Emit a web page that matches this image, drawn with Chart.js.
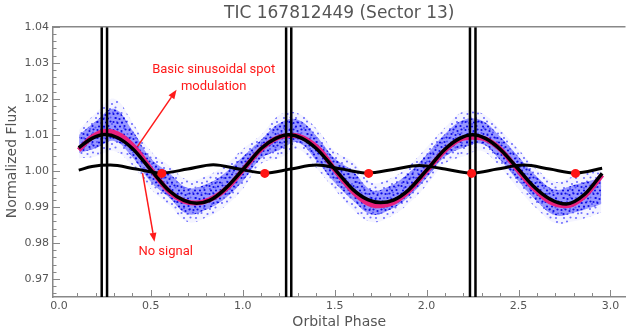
<!DOCTYPE html>
<html>
<head>
<meta charset="utf-8">
<script src="https://cdn.jsdelivr.net/npm/chart.js@4"></script>
<style>
  html, body { margin: 0; padding: 0; background: #fff; overflow: hidden; }
</style>
</head>
<body>
<canvas id="lc" width="630" height="336"></canvas>
<script>
'use strict';

// axis ticks
var xTicks = [0.0, 0.5, 1.0, 1.5, 2.0, 2.5, 3.0];
var yTicks = [0.97, 0.98, 0.99, 1.00, 1.01, 1.02, 1.03, 1.04];

// blue scatter cloud, read as envelopes (outer spread and dense core)
var cloudPhase = [0.11, 0.2, 0.3, 0.4, 0.5, 0.6, 0.7, 0.8, 0.9, 1.0,
  1.1, 1.2, 1.3, 1.4, 1.5, 1.6, 1.7, 1.8, 1.9, 2.0,
  2.1, 2.2, 2.3, 2.4, 2.5, 2.6, 2.7, 2.8, 2.9, 2.95];
var cloudHigh = [1.0115, 1.0160, 1.0200, 1.0135, 1.0055, 1.0015, 0.9975, 0.9985, 1.0015, 1.0060,
  1.0100, 1.0155, 1.0160, 1.0118, 1.0055, 1.0025, 0.9968, 0.9978, 1.0012, 1.0065,
  1.0120, 1.0165, 1.0160, 1.0115, 1.0060, 1.0005, 0.9970, 0.9985, 0.9998, 1.0005];
var cloudLow = [1.0035, 1.0040, 1.0055, 1.0015, 0.9950, 0.9905, 0.9858, 0.9870, 0.9900, 0.9950,
  1.0020, 1.0035, 1.0060, 1.0008, 0.9948, 0.9892, 0.9858, 0.9872, 0.9908, 0.9960,
  1.0020, 1.0040, 1.0055, 1.0010, 0.9950, 0.9895, 0.9855, 0.9860, 0.9875, 0.9885];
var coreHigh = [1.0100, 1.0137, 1.0172, 1.0112, 1.0035, 0.9994, 0.9953, 0.9963, 0.9993, 1.0039,
  1.0086, 1.0132, 1.0142, 1.0097, 1.0035, 0.9999, 0.9947, 0.9958, 0.9993, 1.0045,
  1.0102, 1.0141, 1.0140, 1.0095, 1.0039, 0.9984, 0.9948, 0.9961, 0.9974, 0.9982];
var coreLow = [1.0050, 1.0063, 1.0083, 1.0038, 0.9970, 0.9926, 0.9880, 0.9892, 0.9922, 0.9971,
  1.0034, 1.0058, 1.0079, 1.0029, 0.9968, 0.9918, 0.9879, 0.9892, 0.9927, 0.9980,
  1.0039, 1.0064, 1.0075, 1.0030, 0.9971, 0.9916, 0.9877, 0.9884, 0.9899, 0.9908];

// magenta binned curve
var binPhase = [0.108, 0.18, 0.26, 0.34, 0.42, 0.50, 0.60, 0.68, 0.74, 0.82, 0.92, 1.00,
  1.10, 1.19, 1.27, 1.35, 1.42, 1.50, 1.60, 1.67, 1.74, 1.82, 1.90, 2.00,
  2.10, 2.18, 2.25, 2.33, 2.41, 2.49, 2.58, 2.67, 2.76, 2.86, 2.955];
var binFlux = [1.0058, 1.0094, 1.0110, 1.0097, 1.0060, 1.0005, 0.9942, 0.9916, 0.9911, 0.9920, 0.9955, 1.0002,
  1.0060, 1.0092, 1.0099, 1.0086, 1.0058, 1.0003, 0.9942, 0.9913, 0.9903, 0.9912, 0.9942, 1.0000,
  1.0057, 1.0087, 1.0093, 1.0086, 1.0056, 1.0006, 0.9953, 0.9914, 0.9903, 0.9930, 0.9989];

// black sinusoidal fit
var fitPhase = [0.108, 0.18, 0.25, 0.32, 0.40, 0.50, 0.60, 0.68, 0.75, 0.82, 0.90, 1.00,
  1.10, 1.18, 1.25, 1.32, 1.40, 1.50, 1.60, 1.68, 1.75, 1.82, 1.90, 2.00,
  2.10, 2.18, 2.25, 2.32, 2.40, 2.49, 2.58, 2.67, 2.76, 2.86, 2.955];
var fitFlux = [1.0064, 1.0090, 1.0101, 1.0092, 1.0062, 1.0003, 0.9945, 0.9918, 0.9910, 0.9918, 0.9948, 1.0003,
  1.0062, 1.0090, 1.0100, 1.0091, 1.0062, 1.0005, 0.9948, 0.9920, 0.9912, 0.9919, 0.9946, 1.0002,
  1.0060, 1.0090, 1.0100, 1.0090, 1.0060, 1.0010, 0.9958, 0.9922, 0.9908, 0.9935, 0.9993];

// black low-amplitude "no signal" curve
var nullPhase = [0.108, 0.18, 0.28, 0.42, 0.56, 0.70, 0.84, 0.98, 1.12, 1.26, 1.40, 1.54,
  1.68, 1.82, 1.96, 2.10, 2.245, 2.385, 2.53, 2.67, 2.81, 2.955];
var nullFlux = [1.0002, 1.0012, 1.0016, 1.0005, 0.9994, 1.0005, 1.0017, 1.0005, 0.9994, 1.0005, 1.0016, 1.0005,
  0.9994, 1.0004, 1.0015, 1.0005, 0.9994, 1.0005, 1.0016, 1.0005, 0.9994, 1.0007];

// red markers
var dotPhase = [0.56, 1.12, 1.685, 2.245, 2.81];
var dotFlux = [0.9993, 0.9993, 0.9993, 0.9993, 0.9993];

// vertical marker lines
var vlinePhase = [0.233, 0.262, 1.236, 1.264, 2.236, 2.266];

var yMin = 0.965, yMax = 1.04;

var callouts = [
  { text: ['Basic sinusoidal spot', 'modulation'], at: [0.842, 1.0281], from: [0.428, 1.0068], to: [0.640, 1.0225] },
  { text: ['No signal'], at: [0.581, 0.9776], from: [0.455, 0.9994], to: [0.520, 0.9803] }
];

var canvas = document.getElementById('lc');
var ctx = canvas.getContext('2d');

function dotPattern(size, bg, dot, r, spots) {
  var t = document.createElement('canvas');
  t.width = t.height = size;
  var g = t.getContext('2d');
  if (bg) { g.fillStyle = bg; g.fillRect(0, 0, size, size); }
  g.fillStyle = dot;
  spots.forEach(function (p) {
    g.beginPath(); g.arc(p[0], p[1], r, 0, Math.PI * 2); g.fill();
  });
  return ctx.createPattern(t, 'repeat');
}

// speckle tiles for the cloud texture
var outerFill = dotPattern(20, 'rgba(120,120,255,0.08)', 'rgba(20,20,255,0.6)', 1.05,
  [[2, 3], [7, 1.5], [12, 4], [17, 2], [4, 8], [10, 9], [15.5, 7.5], [1.5, 13], [7.5, 14], [13, 12.5], [18, 13.5], [4, 18], [10.5, 17.5], [16, 18]]);
var coreFill = dotPattern(16, 'rgba(60,60,255,0.5)', 'rgba(0,0,225,0.9)', 1.1,
  [[1.5, 2], [5.5, 1.5], [9.5, 3], [13.5, 1.5], [3.5, 6], [7.5, 7], [12, 6.5], [1.5, 10], [5.5, 11], [10, 10.5], [14.5, 9.5], [3, 14.5], [8, 14.5], [12.5, 14]]);

function pairs(xs, ys) {
  return xs.map(function (x, i) { return { x: x, y: ys[i] }; });
}

var none = 'rgba(0,0,0,0)';
var datasets = [
  { data: pairs(cloudPhase, cloudHigh), fill: '+1', backgroundColor: outerFill, borderColor: none, borderWidth: 0, tension: 0.4, order: 10 },
  { data: pairs(cloudPhase, cloudLow), fill: false, borderColor: none, borderWidth: 0, tension: 0.4, order: 10 },
  { data: pairs(cloudPhase, coreHigh), fill: '+1', backgroundColor: coreFill, borderColor: none, borderWidth: 0, tension: 0.4, order: 9 },
  { data: pairs(cloudPhase, coreLow), fill: false, borderColor: none, borderWidth: 0, tension: 0.4, order: 9 },
  { data: pairs(binPhase, binFlux), borderColor: '#e8207e', borderWidth: 5, cubicInterpolationMode: 'monotone', order: 8 },
  { data: pairs(fitPhase, fitFlux), borderColor: '#000', borderWidth: 3.5, cubicInterpolationMode: 'monotone', order: 7 },
  { data: pairs(nullPhase, nullFlux), borderColor: '#000', borderWidth: 3, cubicInterpolationMode: 'monotone', order: 7 }
];
vlinePhase.forEach(function (p) {
  datasets.push({ data: [{ x: p, y: yMin }, { x: p, y: yMax }], borderColor: '#000', borderWidth: 2.5, order: 6 });
});
datasets.push({ data: pairs(dotPhase, dotFlux), showLine: false, pointRadius: 4.5, pointBackgroundColor: '#ff1414', pointBorderWidth: 0, order: 0 });

// top spine + inward ticks
var frame = {
  id: 'frame',
  afterDraw: function (chart) {
    var c = chart.ctx, a = chart.chartArea, xs = chart.scales.x, ys = chart.scales.y;
    c.save();
    c.strokeStyle = '#888';
    c.lineWidth = 1.5;
    c.beginPath(); c.moveTo(a.left, a.top); c.lineTo(a.right, a.top); c.stroke();
    c.lineWidth = 1;
    c.beginPath();
    for (var k = 966; k <= 1040; k += 2) {
      var py = Math.round(ys.getPixelForValue(k / 1000)) + 0.5;
      c.moveTo(a.left, py); c.lineTo(a.left + (k % 10 === 0 ? 7 : 3.5), py);
    }
    for (var j = 1; j <= 30; j++) {
      var px = Math.round(xs.getPixelForValue(j / 10)) + 0.5;
      c.moveTo(px, a.bottom); c.lineTo(px, a.bottom - (j % 5 === 0 ? 7 : 4));
    }
    c.stroke();
    c.restore();
  }
};

var notes = {
  id: 'notes',
  afterDatasetsDraw: function (chart) {
    var c = chart.ctx, xs = chart.scales.x, ys = chart.scales.y;
    c.save();
    c.strokeStyle = '#ff1a1a';
    c.fillStyle = '#ff1a1a';
    c.lineWidth = 1.5;
    callouts.forEach(function (k) {
      var x0 = xs.getPixelForValue(k.from[0]), y0 = ys.getPixelForValue(k.from[1]);
      var x1 = xs.getPixelForValue(k.to[0]), y1 = ys.getPixelForValue(k.to[1]);
      var ang = Math.atan2(y1 - y0, x1 - x0), head = 9, half = 3.5;
      var bx = x1 - head * Math.cos(ang), by = y1 - head * Math.sin(ang);
      c.beginPath(); c.moveTo(x0, y0); c.lineTo(bx, by); c.stroke();
      c.beginPath(); c.moveTo(x1, y1);
      c.lineTo(bx + half * Math.sin(ang), by - half * Math.cos(ang));
      c.lineTo(bx - half * Math.sin(ang), by + half * Math.cos(ang));
      c.closePath(); c.fill();
      c.font = '13px Roboto';
      c.textAlign = 'center';
      c.textBaseline = 'middle';
      var tx = xs.getPixelForValue(k.at[0]), ty = ys.getPixelForValue(k.at[1]);
      k.text.forEach(function (t, i) { c.fillText(t, tx, ty + i * 17); });
    });
    c.restore();
  }
};

var tickFont = { family: 'DejaVu Sans', size: 11 };
var titleFont = { family: 'DejaVu Sans', size: 14 };

new Chart(ctx, {
  type: 'line',
  data: { datasets: datasets },
  plugins: [frame, notes],
  options: {
    responsive: false,
    animation: false,
    events: [],
    elements: { point: { radius: 0 }, line: { borderCapStyle: 'butt' } },
    layout: { padding: 0 },
    plugins: {
      legend: { display: false },
      tooltip: { enabled: false },
      title: {
        display: true,
        text: 'TIC 167812449 (Sector 13)',
        fullSize: false,
        color: '#555',
        font: { family: 'DejaVu Sans', size: 17, weight: 'normal' },
        padding: { top: 3, bottom: 3.3 }
      }
    },
    scales: {
      x: {
        type: 'linear',
        min: -0.032,
        max: 3.082,
        afterFit: function (s) { s.height = 39; },
        afterBuildTicks: function (s) { s.ticks = xTicks.map(function (v) { return { value: v }; }); },
        ticks: { callback: function (v) { return v.toFixed(1); }, color: '#555', font: tickFont, padding: 3, maxRotation: 0, autoSkip: false },
        grid: { display: true, drawOnChartArea: false, drawTicks: false },
        border: { color: '#888', width: 1.5 },
        title: { display: true, text: 'Orbital Phase', color: '#555', font: titleFont, padding: { top: 0, bottom: 5 } }
      },
      y: {
        type: 'linear',
        min: yMin,
        max: yMax,
        afterFit: function (s) { s.width = 53; },
        afterBuildTicks: function (s) { s.ticks = yTicks.map(function (v) { return { value: v }; }); },
        ticks: { callback: function (v) { return v.toFixed(2); }, color: '#555', font: tickFont, padding: 4 },
        grid: { display: true, drawOnChartArea: false, drawTicks: false },
        border: { color: '#888', width: 1.5 },
        title: { display: true, text: 'Normalized Flux', color: '#555', font: titleFont, padding: { top: 3.5, bottom: 0 } }
      }
    }
  }
});
</script>
</body>
</html>
